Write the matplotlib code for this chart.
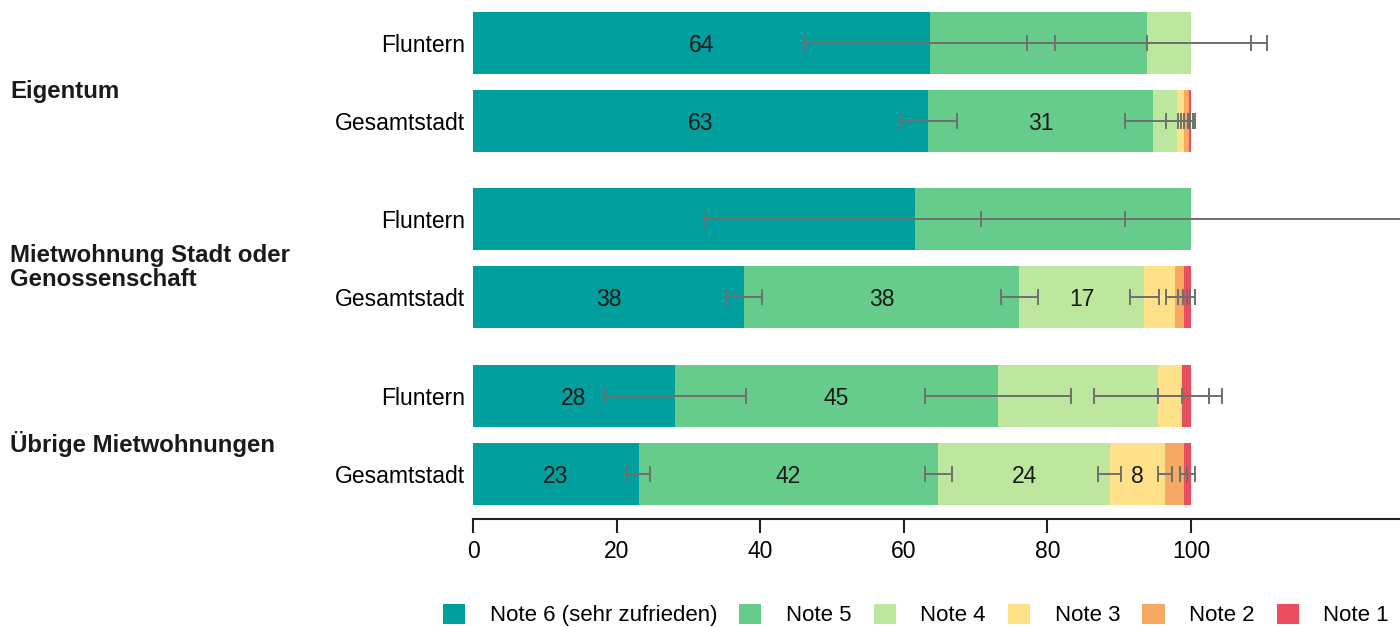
import numpy as np
import matplotlib.pyplot as plt
from matplotlib.patches import Patch

plt.rcParams['font.family'] = ['Liberation Sans', 'DejaVu Sans']

# gruppen og rader
groups = ["Eigentum", "Mietwohnung Stadt oder\nGenossenschaft", "Übrige Mietwohnungen"]
rows = ["Fluntern", "Gesamtstadt"]
notes = ["Note 6 (sehr zufrieden)", "Note 5", "Note 4", "Note 3", "Note 2", "Note 1"]
colors = ["#009e9c", "#66cc8b", "#bde69f", "#fee189", "#f5a963", "#e94d5f"]

# andeler i prosent (Note 6 .. Note 1), en liste per rad
eig_flu = [63.6, 30.3, 6.1, 0.0, 0.0, 0.0]
eig_ges = [63.4, 31.3, 3.35, 0.95, 0.65, 0.35]
miet_flu = [61.5, 38.5, 0.0, 0.0, 0.0, 0.0]
miet_ges = [37.7, 38.4, 17.4, 4.2, 1.3, 1.0]
ueb_flu = [28.1, 45.0, 22.3, 3.35, 0.0, 1.25]
ueb_ges = [23.1, 41.7, 23.9, 7.7, 2.6, 1.0]

# konfidensintervall (halv bredde)
eig_flu_err = [17.4, 16.7, 8.4, 0, 0, 0]
eig_ges_err = [4.0, 3.9, 1.5, 0.85, 0.6, 0.5]
miet_flu_err = [29.3, 29.2, 0, 0, 0, 0]
miet_ges_err = [2.5, 2.6, 2.0, 1.2, 0.8, 0.6]
ueb_flu_err = [9.9, 10.2, 8.9, 3.7, 0, 2.5]
ueb_ges_err = [1.6, 1.9, 1.6, 1.0, 0.5, 0.5]

# hvilke segmenter som har tall
eig_flu_lab = [1, 0, 0, 0, 0, 0]
eig_ges_lab = [1, 1, 0, 0, 0, 0]
miet_flu_lab = [0, 0, 0, 0, 0, 0]
miet_ges_lab = [1, 1, 1, 0, 0, 0]
ueb_flu_lab = [1, 1, 0, 0, 0, 0]
ueb_ges_lab = [1, 1, 1, 1, 0, 0]

data = [eig_flu, eig_ges, miet_flu, miet_ges, ueb_flu, ueb_ges]
errs = [eig_flu_err, eig_ges_err, miet_flu_err, miet_ges_err, ueb_flu_err, ueb_ges_err]
labs = [eig_flu_lab, eig_ges_lab, miet_flu_lab, miet_ges_lab, ueb_flu_lab, ueb_ges_lab]

# posisjoner: 1 enhet mellom radene, litt mer mellom gruppene
group_step = 2.263
top_off = 0.551
ypos = []
for g in range(len(groups)):
    for r in range(len(rows)):
        ypos.append(top_off + g * group_step + r)

W, H = 1400, 627
fig = plt.figure(figsize=(W / 100, H / 100), dpi=100)
ax = fig.add_axes([473 / W, 1 - 519 / H, 1 - 473 / W, 519 / H])

for i, (vals, err, lab) in enumerate(zip(data, errs, labs)):
    left = 0.0
    for k, v in enumerate(vals):
        if v > 0:
            ax.barh(ypos[i], v, left=left, height=0.795, color=colors[k], linewidth=0)
            if lab[k]:
                ax.text(left + v / 2, ypos[i], f"{round(v):.0f}", ha='center', va='center_baseline',
                        fontsize=16.5, color='#1a1a1a', zorder=4)
        left += v
    # feilstolper ved slutten av hvert segment
    left = 0.0
    for k, v in enumerate(vals):
        left += v
        if v > 0 and err[k] > 0:
            lo = min(err[k], v)
            ax.errorbar(left, ypos[i], xerr=[[lo], [err[k]]], fmt='none', ecolor='#6f6f6f',
                        elinewidth=1.4, capsize=6, capthick=1.4, zorder=3)

ax.set_xlim(0, 129.1)
ax.set_ylim(519 / 78, 0)
ax.set_xticks([0, 20, 40, 60, 80, 100])
ax.tick_params(axis='x', length=10, width=1.5, color='#222222', labelsize=16.5, pad=5)
ax.set_yticks(ypos)
ax.set_yticklabels(rows * len(groups))
ax.tick_params(axis='y', length=0, labelsize=16.5, pad=6)
for s in ['top', 'right', 'left']:
    ax.spines[s].set_visible(False)
ax.spines['bottom'].set_linewidth(1.5)
ax.spines['bottom'].set_color('#222222')

# gruppenavn
for g, name in enumerate(groups):
    yc = top_off + g * group_step + 0.5 + 0.12
    yfig = 1 - (yc * 78) / H
    fig.text(10 / W, yfig, name, ha='left', va='center', fontsize=17.3, fontweight='bold',
             color='#1a1a1a', linespacing=1.05)

handles = [Patch(facecolor=c, edgecolor='none') for c in colors]
fig.legend(handles, notes, loc='center right', bbox_to_anchor=(1398 / W, 1 - 615 / H), ncol=6,
           frameon=False, fontsize=16, handlelength=1.0, handleheight=1.0,
           handletextpad=1.1, columnspacing=1.0, borderaxespad=0)

fig.savefig("out.png", dpi=100)
